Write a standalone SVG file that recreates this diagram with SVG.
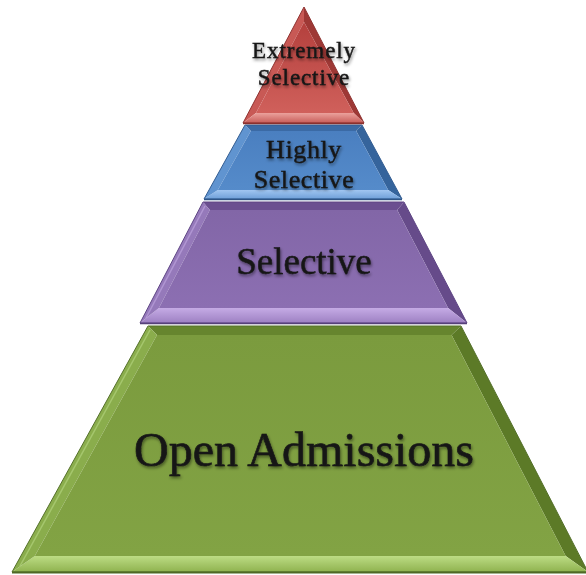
<svg xmlns="http://www.w3.org/2000/svg" width="586" height="575" viewBox="0 0 586 575">
  <style>
    .lbl { font-family: "Liberation Serif", "Times New Roman", serif; fill: #161616; stroke: #161616; stroke-width: 0.45; text-anchor: middle; filter: url(#tshadow); }
    .edge { stroke-width: 1; stroke-linejoin: round; }
  </style>
  <defs>
    <filter id="tshadow" x="-20%" y="-30%" width="140%" height="170%">
      <feDropShadow dx="1" dy="2" stdDeviation="1.6" flood-color="#000" flood-opacity="0.45"/>
    </filter>
    <linearGradient id="redFace" x1="0" y1="0" x2="0" y2="1">
      <stop offset="0" stop-color="#b4403d"/>
      <stop offset="1" stop-color="#d0605b"/>
    </linearGradient>
    <linearGradient id="redBot" x1="0" y1="0" x2="0" y2="1">
      <stop offset="0" stop-color="#eba19c"/>
      <stop offset="1" stop-color="#c85d59"/>
    </linearGradient>
    <linearGradient id="blueFace" x1="0" y1="0" x2="0" y2="1">
      <stop offset="0" stop-color="#4a7fc0"/>
      <stop offset="1" stop-color="#558bca"/>
    </linearGradient>
    <linearGradient id="blueBot" x1="0" y1="0" x2="0" y2="1">
      <stop offset="0" stop-color="#a1c6f1"/>
      <stop offset="1" stop-color="#6e9fd8"/>
    </linearGradient>
    <linearGradient id="purpFace" x1="0" y1="0" x2="0" y2="1">
      <stop offset="0" stop-color="#8266a7"/>
      <stop offset="1" stop-color="#8c6fb2"/>
    </linearGradient>
    <linearGradient id="purpBot" x1="0" y1="0" x2="0" y2="1">
      <stop offset="0" stop-color="#c5abe5"/>
      <stop offset="1" stop-color="#9d80c2"/>
    </linearGradient>
    <linearGradient id="greenFace" x1="0" y1="0" x2="0" y2="1">
      <stop offset="0" stop-color="#7b9b3e"/>
      <stop offset="1" stop-color="#82a344"/>
    </linearGradient>
    <linearGradient id="greenBot" x1="0" y1="0" x2="0" y2="1">
      <stop offset="0" stop-color="#bcdc84"/>
      <stop offset="1" stop-color="#8fb24f"/>
    </linearGradient>
  </defs>
  <rect width="586" height="575" fill="#ffffff"/>

  <g id="open-admissions">
    <polygon points="148,326 461,326 451.6,335 157,335" fill="#66852e"/>
    <polygon points="461,326 588,572 565.7,556 451.6,335" fill="#5c7a27"/>
    <polygon points="34.8,556 565.7,556 588,572 12,572" fill="url(#greenBot)"/>
    <polygon points="148,326 157,335 34.8,556 12,572" fill="#8aad4c"/>
    <polygon points="157,335 451.6,335 565.7,556 34.8,556" fill="url(#greenFace)"/>
    <line x1="150" y1="330" x2="20" y2="566" stroke="#b8d884" stroke-width="1.5" opacity="0.6"/>
    <polygon class="edge" points="148,326 461,326 588,572 12,572" fill="none" stroke="#54702a"/>
    <line x1="12" y1="572.5" x2="588" y2="572.5" stroke="#4e6a24" stroke-width="2"/>
    <text class="lbl" x="304" y="466" font-size="48" style="stroke-width:0.6">Open Admissions</text>
  </g>

  <g id="selective">
    <polygon points="203,202 404,202 397.2,210 209.8,210" fill="#6b4f90"/>
    <polygon points="404,202 467,323 448.1,308 397.2,210" fill="#664b8a"/>
    <polygon points="158.9,308 448.1,308 467,323 140,323" fill="url(#purpBot)"/>
    <polygon points="203,202 209.8,210 158.9,308 140,323" fill="#9579ba"/>
    <polygon points="209.8,210 397.2,210 448.1,308 158.9,308" fill="url(#purpFace)"/>
    <line x1="205" y1="206" x2="146" y2="318" stroke="#c3a9e3" stroke-width="1.5" opacity="0.6"/>
    <polygon class="edge" points="203,202 404,202 467,323 140,323" fill="none" stroke="#5e4584"/>
    <line x1="140" y1="323.5" x2="467" y2="323.5" stroke="#56407a" stroke-width="1.5"/>
    <text class="lbl" x="304" y="274" font-size="37">Selective</text>
  </g>

  <g id="highly-selective">
    <polygon points="245,125 362,125 356.2,131 250.8,131" fill="#3b6aa5"/>
    <polygon points="362,125 402,199 388.2,190 356.2,131" fill="#35649c"/>
    <polygon points="217.8,190 388.2,190 402,199 204,199" fill="url(#blueBot)"/>
    <polygon points="245,125 250.8,131 217.8,190 204,199" fill="#6094d0"/>
    <polygon points="250.8,131 356.2,131 388.2,190 217.8,190" fill="url(#blueFace)"/>
    <polygon class="edge" points="245,125 362,125 402,199 204,199" fill="none" stroke="#335d92"/>
    <line x1="204" y1="199.5" x2="402" y2="199.5" stroke="#2f5687" stroke-width="1.5"/>
    <text class="lbl" x="304" y="158" font-size="26" letter-spacing="0.6">Highly</text>
    <text class="lbl" x="304" y="188" font-size="26" letter-spacing="0.6">Selective</text>
  </g>

  <g id="extremely-selective">
    <polygon points="304,7 243,123 256,113 304,22" fill="#c85955"/>
    <polygon points="304,7 364,123 353.7,113 304,22" fill="#9e3835"/>
    <polygon points="256,113 353.7,113 364,123 243,123" fill="url(#redBot)"/>
    <polygon points="304,22 353.7,113 256,113" fill="url(#redFace)"/>
    <polygon class="edge" points="304,7 364,123 243,123" fill="none" stroke="#8f3331"/>
    <line x1="243" y1="123.5" x2="364" y2="123.5" stroke="#8a302e" stroke-width="1.5"/>
    <text class="lbl" x="304" y="58" font-size="23" letter-spacing="0.9">Extremely</text>
    <text class="lbl" x="304" y="85" font-size="23" letter-spacing="0.9">Selective</text>
  </g>
</svg>
